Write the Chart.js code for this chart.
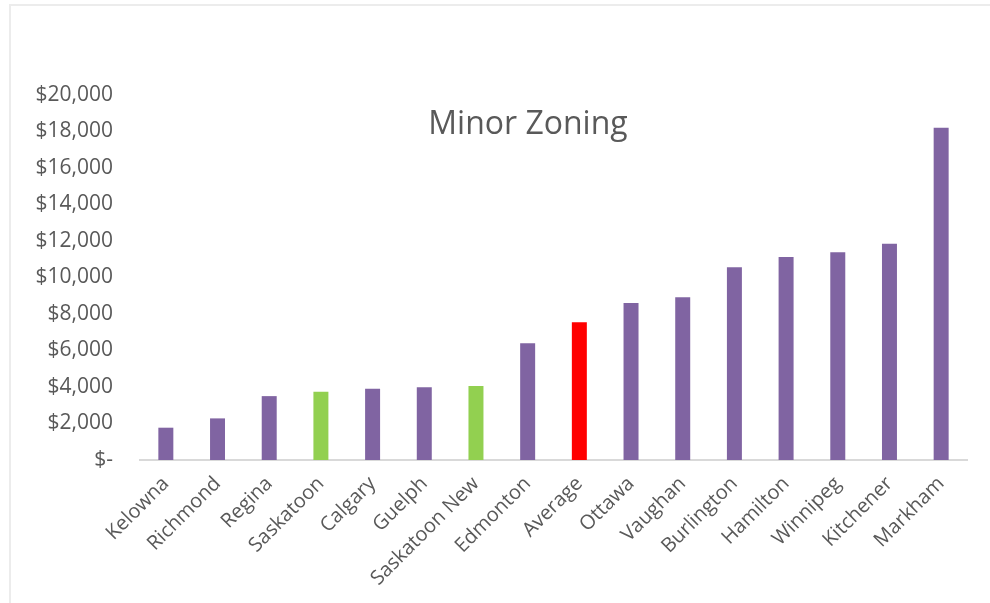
<!DOCTYPE html>
<html>
<head>
<meta charset="utf-8">
<script src="https://cdn.jsdelivr.net/npm/chart.js@4.4.1/dist/chart.umd.min.js"></script>
<style>
  html, body { margin: 0; padding: 0; background: #ffffff; }
  #wrap { position: relative; width: 990px; height: 603px; }
  #frame { position: absolute; left: 9px; top: 4px; width: 990px; height: 603px;
           border-left: 2px solid #ececec; border-top: 2px solid #ececec; box-sizing: border-box; }
  canvas { position: absolute; left: 0; top: 0; }
</style>
</head>
<body>
<div id="wrap">
  <div id="frame"></div>
  <canvas id="c" width="990" height="603"></canvas>
</div>
<script>
const chartTitle = 'Minor Zoning';
const categories = ['Kelowna', 'Richmond', 'Regina', 'Saskatoon', 'Calgary', 'Guelph', 'Saskatoon New',
  'Edmonton', 'Average', 'Ottawa', 'Vaughan', 'Burlington', 'Hamilton', 'Winnipeg', 'Kitchener', 'Markham'];
const values = [1770, 2280, 3500, 3740, 3900, 3980, 4050,
  6400, 7550, 8600, 8920, 10560, 11120, 11380, 11850, 18200];
const greenCategories = ['Saskatoon', 'Saskatoon New'];
const redCategories = ['Average'];
const yTickValues = [0, 2000, 4000, 6000, 8000, 10000, 12000, 14000, 16000, 18000, 20000];

const PURPLE = '#8064A2', GREEN = '#92D050', RED = '#FF0000';
const TEXT = '#595959';
const FONT = "'Open Sans', sans-serif";

function barColor(ctx) {
  const name = categories[ctx.dataIndex];
  if (redCategories.includes(name)) return RED;
  if (greenCategories.includes(name)) return GREEN;
  return PURPLE;
}

const titlePlugin = {
  id: 'overlayTitle',
  afterDraw(chart) {
    const c = chart.ctx;
    c.save();
    c.font = "32px " + FONT;
    c.fillStyle = TEXT;
    c.textAlign = 'center';
    c.textBaseline = 'alphabetic';
    c.fillText(chartTitle, 528, 134);
    c.restore();
  }
};

function fmt(v) {
  if (v === 0) return '$-';
  return '$' + v.toLocaleString('en-US');
}

new Chart(document.getElementById('c'), {
  type: 'bar',
  data: {
    labels: categories,
    datasets: [{
      data: values,
      backgroundColor: barColor,
      barPercentage: 0.29,
      categoryPercentage: 1.0
    }]
  },
  options: {
    responsive: false,
    animation: false,
    devicePixelRatio: 1,
    layout: { padding: { left: 0, right: 23, top: 95, bottom: 0 } },
    plugins: { legend: { display: false }, title: { display: false }, tooltip: { enabled: false } },
    scales: {
      x: {
        grid: { display: false, drawTicks: false },
        border: { display: true, color: '#d9d9d9', width: 2 },
        ticks: {
          color: TEXT, font: { family: FONT, size: 20 },
          minRotation: 45, maxRotation: 45, padding: 12, autoSkip: false
        },
        afterFit(s) { s.height = 143; }
      },
      y: {
        min: 0, max: 20000,
        grid: { display: false, drawTicks: false },
        border: { display: false },
        afterBuildTicks(s) { s.ticks = yTickValues.map(v => ({ value: v })); },
        ticks: {
          color: TEXT, font: { family: FONT, size: 21 },
          padding: 27,
          callback: (v) => fmt(v)
        },
        afterFit(s) { s.width = 140; }
      }
    }
  },
  plugins: [titlePlugin]
});
</script>
</body>
</html>
